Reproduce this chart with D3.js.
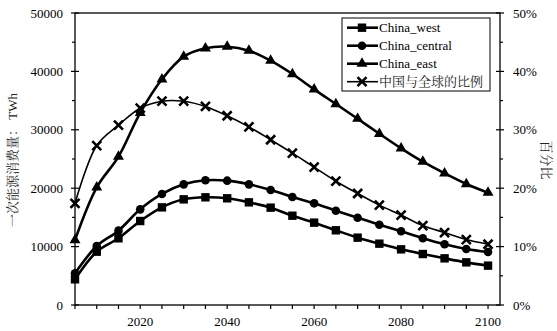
<!DOCTYPE html>
<html>
<head>
<meta charset="utf-8">
<script src="https://cdn.jsdelivr.net/npm/d3@7/dist/d3.min.js"></script>
<style>
  html, body { margin: 0; padding: 0; background: #fff; }
  svg { display: block; }
</style>
</head>
<body>
<svg id="chart" width="557" height="331"></svg>
<script>
// Years sampled every five years
const years = [2005, 2010, 2015, 2020, 2025, 2030, 2035, 2040, 2045, 2050,
               2055, 2060, 2065, 2070, 2075, 2080, 2085, 2090, 2095, 2100];

// Primary energy consumption by region, TWh
const chinaWest    = [4400, 9130, 11420, 14380, 16720, 18090, 18440, 18270, 17580, 16670,
                      15290, 14100, 12790, 11530, 10500, 9530, 8730, 7990, 7300, 6740];
const chinaCentral = [5420, 10100, 12730, 16380, 19010, 20660, 21350, 21290, 20660, 19690,
                      18490, 17410, 16150, 14950, 13750, 12620, 11420, 10390, 9590, 9080];
const chinaEast    = [11130, 20150, 25400, 32900, 38650, 42520, 43950, 44230, 43550, 41840,
                      39550, 36930, 34420, 31900, 29330, 26830, 24540, 22550, 20720, 19230];
// China's share of the world total, percent
const shareOfWorld = [17.4, 27.3, 30.8, 33.7, 34.9, 34.9, 34.0, 32.4, 30.5, 28.3,
                      26.0, 23.6, 21.2, 19.1, 17.1, 15.4, 13.6, 12.4, 11.2, 10.4];

const xTicks = [2020, 2040, 2060, 2080, 2100];
const leftTicks = [0, 10000, 20000, 30000, 40000, 50000];
const rightTicks = [0, 10, 20, 30, 40, 50];

const seriesNames = ["China_west", "China_central", "China_east", "中国与全球的比例"];
const leftTitle = "一次能源消费量：";
const leftTitleUnit = " TWh";
const rightTitle = "百分比";

const SERIF = '"Liberation Serif", "Times New Roman", serif';
const CJK = '"Noto Serif CJK SC", "Noto Sans CJK SC", serif';

const svg = d3.select("#chart");
const L = 75, R = 500, T = 13, B = 305;

const x = d3.scaleLinear().domain([2005, 2102.75]).range([L, R]);
const yL = d3.scaleLinear().domain([0, 50000]).range([B, T]);
const yR = d3.scaleLinear().domain([0, 50]).range([B, T]);

function num(sel) {
  return sel.style("font-family", SERIF).style("font-size", "13px").attr("fill", "#000");
}
function cjk(sel) {
  return sel.style("font-family", CJK).style("font-size", "13px").attr("fill", "#222");
}

// plot frame
svg.append("rect").attr("x", L).attr("y", T).attr("width", R - L).attr("height", B - T)
  .attr("fill", "none").attr("stroke", "#000").attr("stroke-width", 1.3);

// x axis: ticks every 5 years, labels every 20
const xg = svg.append("g");
xg.selectAll("line").data(years).join("line")
  .attr("x1", d => x(d)).attr("x2", d => x(d))
  .attr("y1", B).attr("y2", B + 4).attr("stroke", "#000").attr("stroke-width", 1.2);
num(xg.selectAll("text").data(xTicks).join("text"))
  .attr("x", d => x(d)).attr("y", 326)
  .attr("text-anchor", "middle").text(d => d);

// left axis
const lg = svg.append("g");
lg.selectAll("line.major").data(leftTicks).join("line").attr("class", "major")
  .attr("x1", L - 4).attr("x2", L + 4).attr("y1", d => yL(d)).attr("y2", d => yL(d))
  .attr("stroke", "#000").attr("stroke-width", 1.2);
lg.selectAll("line.minor").data(d3.range(5000, 50000, 10000)).join("line").attr("class", "minor")
  .attr("x1", L - 3).attr("x2", L).attr("y1", d => yL(d)).attr("y2", d => yL(d))
  .attr("stroke", "#000").attr("stroke-width", 1.2);
num(lg.selectAll("text").data(leftTicks).join("text"))
  .attr("x", 63).attr("y", d => yL(d) + 4.5)
  .attr("text-anchor", "end").text(d => d);

// right axis
const rg = svg.append("g");
rg.selectAll("line.major").data(rightTicks).join("line").attr("class", "major")
  .attr("x1", R - 4).attr("x2", R + 4).attr("y1", d => yR(d)).attr("y2", d => yR(d))
  .attr("stroke", "#000").attr("stroke-width", 1.2);
rg.selectAll("line.minor").data(d3.range(5, 50, 10)).join("line").attr("class", "minor")
  .attr("x1", R).attr("x2", R + 3).attr("y1", d => yR(d)).attr("y2", d => yR(d))
  .attr("stroke", "#000").attr("stroke-width", 1.2);
num(rg.selectAll("text").data(rightTicks).join("text"))
  .attr("x", 513).attr("y", d => yR(d) + 4.5)
  .attr("text-anchor", "start").text(d => d + "%");

// axis titles
const lt = svg.append("text").attr("transform", "translate(17,160) rotate(-90)")
  .attr("text-anchor", "middle");
cjk(lt.append("tspan")).text(leftTitle);
num(lt.append("tspan")).attr("fill", "#222").text(leftTitleUnit);

cjk(svg.append("text"))
  .attr("transform", "translate(542,160) rotate(90)")
  .attr("text-anchor", "middle").text(rightTitle);

// markers
function drawMarker(g, kind, cx, cy) {
  if (kind === "square") {
    g.append("rect").attr("x", cx - 4.2).attr("y", cy - 4.2).attr("width", 8.4).attr("height", 8.4)
      .attr("fill", "#000");
  } else if (kind === "circle") {
    g.append("circle").attr("cx", cx).attr("cy", cy).attr("r", 4.3).attr("fill", "#000");
  } else if (kind === "triangle") {
    g.append("path").attr("transform", `translate(${cx},${cy})`)
      .attr("d", d3.symbol(d3.symbolTriangle, 52)()).attr("fill", "#000");
  } else if (kind === "cross") {
    const s = 4.5;
    g.append("path")
      .attr("d", `M${cx - s},${cy - s}L${cx + s},${cy + s}M${cx - s},${cy + s}L${cx + s},${cy - s}`)
      .attr("stroke", "#000").attr("stroke-width", 2.6).attr("fill", "none");
  }
}

const series = [
  { name: seriesNames[0], values: chinaWest, y: yL, marker: "square", width: 2.6 },
  { name: seriesNames[1], values: chinaCentral, y: yL, marker: "circle", width: 2.6 },
  { name: seriesNames[2], values: chinaEast, y: yL, marker: "triangle", width: 2.6 },
  { name: seriesNames[3], values: shareOfWorld, y: yR, marker: "cross", width: 1.6 }
];

const plot = svg.append("g");
series.forEach(s => {
  const line = d3.line()
    .x((d, i) => x(years[i]))
    .y(d => s.y(d))
    .curve(d3.curveCatmullRom.alpha(0.5));
  plot.append("path").datum(s.values).attr("d", line)
    .attr("fill", "none").attr("stroke", "#000").attr("stroke-width", s.width);
  const mg = plot.append("g");
  s.values.forEach((v, i) => drawMarker(mg, s.marker, x(years[i]), s.y(v)));
});

// legend
const lgX = 342, lgY = 18, lgW = 148, lgH = 73;
const legend = svg.append("g");
legend.append("rect").attr("x", lgX).attr("y", lgY).attr("width", lgW).attr("height", lgH)
  .attr("fill", "#fff").attr("stroke", "#000").attr("stroke-width", 1);
series.forEach((s, i) => {
  const cy = 27.7 + i * 18;
  legend.append("line").attr("x1", 347).attr("x2", 378).attr("y1", cy).attr("y2", cy)
    .attr("stroke", "#000").attr("stroke-width", s.width);
  drawMarker(legend, s.marker, 362, cy);
  const t = legend.append("text").attr("x", 379).attr("y", cy + 4.5).text(s.name);
  if (i === 3) cjk(t); else num(t);
});
</script>
</body>
</html>
